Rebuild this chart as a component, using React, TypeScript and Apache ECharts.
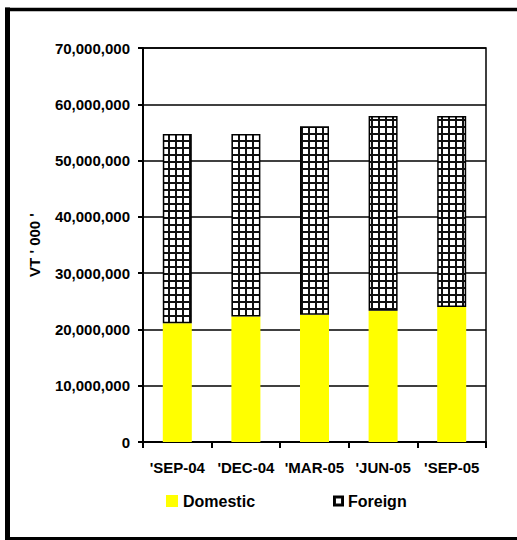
import React, { useEffect, useRef } from "react";
import * as echarts from "echarts";

const categories = ["'SEP-04", "'DEC-04", "'MAR-05", "'JUN-05", "'SEP-05"];
const domestic = [21100000, 22300000, 22600000, 23300000, 24000000];
const foreign = [33600000, 32400000, 33500000, 34600000, 33900000];
const yTicks = [0, 10000000, 20000000, 30000000, 40000000, 50000000, 60000000, 70000000];

const FONT = "'Liberation Sans', Arial, sans-serif";

// Small square cross-hatch tile used to fill the Foreign bars
function makeGridTile(): HTMLCanvasElement {
  const size = 7;
  const c = document.createElement("canvas");
  c.width = size;
  c.height = size;
  const ctx = c.getContext("2d")!;
  ctx.fillStyle = "#ffffff";
  ctx.fillRect(0, 0, size, size);
  ctx.fillStyle = "#111111";
  ctx.fillRect(0, 0, size, 2);
  ctx.fillRect(0, 0, 2, size);
  return c;
}

export default function App() {
  const ref = useRef<HTMLDivElement>(null);

  useEffect(() => {
    if (!ref.current) return;
    const chart = echarts.init(ref.current, null, { renderer: "svg" });
    const tile = makeGridTile();
    const hatch: any = { image: tile, repeat: "repeat", imageWidth: 7, imageHeight: 7 };

    chart.setOption({
      animation: false,
      backgroundColor: "#ffffff",
      textStyle: { fontFamily: FONT },
      grid: {
        left: 143,
        right: 31,
        top: 48,
        bottom: 98,
        show: true,
        borderColor: "#000",
        borderWidth: 1.5,
        backgroundColor: "transparent",
      },
      legend: [
        {
          data: ["Domestic"],
          left: 166,
          top: 493,
          padding: 0,
          itemWidth: 12,
          itemHeight: 12,
          icon: "rect",
          textStyle: { fontFamily: FONT, fontWeight: "bold", fontSize: 16, color: "#000" },
        },
        {
          data: ["Foreign"],
          left: 333,
          top: 493,
          padding: 0,
          itemWidth: 9,
          itemHeight: 9,
          icon: "rect",
          textStyle: { fontFamily: FONT, fontWeight: "bold", fontSize: 16, color: "#000" },
        },
      ],
      xAxis: {
        type: "category",
        data: categories,
        axisLine: { lineStyle: { color: "#000", width: 2 } },
        axisTick: { show: true, length: 6, interval: 0, lineStyle: { color: "#000", width: 2 } },
        axisLabel: {
          interval: 0,
          margin: 18,
          color: "#000",
          fontWeight: "bold",
          fontSize: 15,
          fontFamily: FONT,
        },
      },
      yAxis: {
        type: "value",
        min: yTicks[0],
        max: yTicks[yTicks.length - 1],
        interval: yTicks[1] - yTicks[0],
        name: "VT ' 000 '",
        nameLocation: "middle",
        nameGap: 101,
        nameRotate: 90,
        nameTextStyle: { color: "#000", fontWeight: "bold", fontSize: 15, fontFamily: FONT },
        axisLine: { show: true, lineStyle: { color: "#000", width: 2 } },
        axisTick: { show: true, length: 5, lineStyle: { color: "#000", width: 2 } },
        splitLine: { show: true, lineStyle: { color: "#000", width: 1.5 } },
        axisLabel: {
          margin: 13,
          color: "#000",
          fontWeight: "bold",
          fontSize: 15,
          fontFamily: FONT,
          formatter: (v: number) => v.toLocaleString("en-US"),
        },
      },
      series: [
        {
          name: "Domestic",
          type: "bar",
          stack: "total",
          barWidth: 29,
          data: domestic,
          itemStyle: { color: "#ffff00" },
        },
        {
          name: "Foreign",
          type: "bar",
          stack: "total",
          barWidth: 29,
          data: foreign,
          itemStyle: { color: hatch, borderColor: "#000", borderWidth: 1.5 },
        },
      ],
      graphic: [
        { type: "line", shape: { x1: 7.5, y1: 7.5, x2: 7.5, y2: 540 }, style: { stroke: "#000", lineWidth: 5 } },
        { type: "line", shape: { x1: 5, y1: 9.5, x2: 517, y2: 9.5 }, style: { stroke: "#000", lineWidth: 3.5 } },
        { type: "line", shape: { x1: 5, y1: 538.5, x2: 517, y2: 538.5 }, style: { stroke: "#000", lineWidth: 3 } },
      ],
    });

    return () => chart.dispose();
  }, []);

  return (
    <div
      ref={ref}
      style={{ position: "fixed", left: 0, top: 0, width: 517, height: 540 }}
    />
  );
}
